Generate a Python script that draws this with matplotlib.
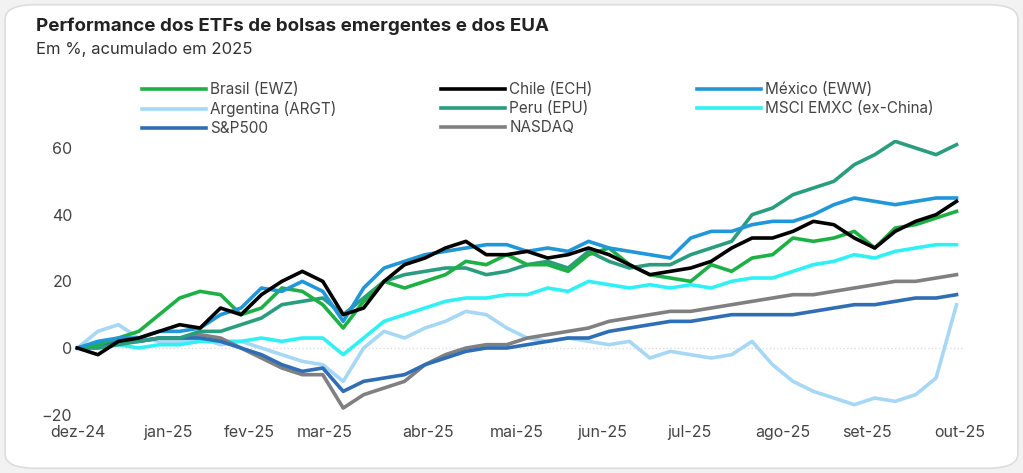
import matplotlib.pyplot as plt
from matplotlib.patches import FancyBboxPatch
import numpy as np

plt.rcParams['font.family'] = ['Inter', 'DejaVu Sans']

# weekly points, day offsets from start
days = np.arange(44) * 7

brasil = [0, 1, 3, 5, 10, 15, 17, 16, 10, 12, 18, 17, 13, 6, 14, 20, 18, 20, 22, 26, 25, 28,
          25, 25, 23, 28, 30, 25, 22, 21, 20, 25, 23, 27, 28, 33, 32, 33, 35, 30, 36, 37, 39, 41]
chile = [0, -2, 2, 3, 5, 7, 6, 12, 10, 16, 20, 23, 20, 10, 12, 20, 25, 27, 30, 32, 28, 28,
         29, 27, 28, 30, 28, 25, 22, 23, 24, 26, 30, 33, 33, 35, 38, 37, 33, 30, 35, 38, 40, 44]
mexico = [0, 2, 3, 3, 5, 5, 6, 10, 12, 18, 17, 20, 17, 8, 18, 24, 26, 28, 29, 30, 31, 31,
          29, 30, 29, 32, 30, 29, 28, 27, 33, 35, 35, 37, 38, 38, 40, 43, 45, 44, 43, 44, 45, 45]
argentina = [0, 5, 7, 3, 2, 2, 3, 1, 2, 0, -2, -4, -5, -10, 0, 5, 3, 6, 8, 11, 10, 6,
             3, 2, 3, 2, 1, 2, -3, -1, -2, -3, -2, 2, -5, -10, -13, -15, -17, -15, -16, -14, -9, 13]
peru = [0, 0, 1, 2, 3, 3, 5, 5, 7, 9, 13, 14, 15, 10, 15, 20, 22, 23, 24, 24, 22, 23,
        25, 26, 24, 29, 26, 24, 25, 25, 28, 30, 32, 40, 42, 46, 48, 50, 55, 58, 62, 60, 58, 61]
emxc = [0, 0, 1, 0, 1, 1, 2, 2, 2, 3, 2, 3, 3, -2, 3, 8, 10, 12, 14, 15, 15, 16,
        16, 18, 17, 20, 19, 18, 19, 18, 19, 18, 20, 21, 21, 23, 25, 26, 28, 27, 29, 30, 31, 31]
sp500 = [0, 1, 2, 2, 3, 3, 3, 2, 0, -2, -5, -7, -6, -13, -10, -9, -8, -5, -3, -1, 0, 0,
         1, 2, 3, 3, 5, 6, 7, 8, 8, 9, 10, 10, 10, 10, 11, 12, 13, 13, 14, 15, 15, 16]
nasdaq = [0, 1, 2, 2, 3, 3, 4, 3, 0, -3, -6, -8, -8, -18, -14, -12, -10, -5, -2, 0, 1, 1,
          3, 4, 5, 6, 8, 9, 10, 11, 11, 12, 13, 14, 15, 16, 16, 17, 18, 19, 20, 20, 21, 22]

tick_days = [0, 30.8, 58.9, 84.6, 119.9, 150.3, 179.8, 209.6, 241.4, 270.5, 302]
tick_labels = ['dez-24', 'jan-25', 'fev-25', 'mar-25', 'abr-25', 'mai-25',
               'jun-25', 'jul-25', 'ago-25', 'set-25', 'out-25']

series = [
    ('Brasil (EWZ)', brasil, '#1DB045'),
    ('Argentina (ARGT)', argentina, '#A6D8F5'),
    ('S&P500', sp500, '#2F6DB5'),
    ('Chile (ECH)', chile, '#000000'),
    ('Peru (EPU)', peru, '#2A9D7F'),
    ('NASDAQ', nasdaq, '#808080'),
    ('México (EWW)', mexico, '#2196D9'),
    ('MSCI EMXC (ex-China)', emxc, '#2EF0F5'),
]
zorder = {'Argentina (ARGT)': 1, 'MSCI EMXC (ex-China)': 2, 'NASDAQ': 3, 'S&P500': 4,
          'Peru (EPU)': 5, 'Brasil (EWZ)': 6, 'México (EWW)': 7, 'Chile (ECH)': 8}

fig = plt.figure(figsize=(10.23, 4.73), dpi=100)
fig.patch.set_facecolor('#f2f2f2')
fig.patches.append(FancyBboxPatch((0.005, 0.01), 0.99, 0.98, boxstyle='round,pad=0,rounding_size=0.03',
                                  transform=fig.transFigure, facecolor='white',
                                  edgecolor='#dddddd', linewidth=1.2, zorder=-1))

ax = fig.add_axes([0.068, 0.112, 0.875, 0.592])
ax.patch.set_alpha(0)
for name, vals, col in series:
    ax.plot(days, vals, color=col, linewidth=2.6, label=name, zorder=zorder[name])

ax.set_xlim(-2.7, 303.8)
ax.set_ylim(-21.6, 62.4)
ax.set_yticks([-20, 0, 20, 40, 60])
ax.set_xticks(tick_days)
ax.set_xticklabels(tick_labels)
ax.tick_params(length=0, labelsize=11.5, colors='#444444')
ax.tick_params(axis='y', pad=-2)
for s in ax.spines.values():
    s.set_visible(False)
ax.axhline(0, color='#dddddd', linewidth=1, linestyle=':', zorder=0)

fig.text(0.035, 0.935, 'Performance dos ETFs de bolsas emergentes e dos EUA',
         fontsize=13.5, fontweight='bold', color='#222222')
fig.text(0.035, 0.885, 'Em %, acumulado em 2025', fontsize=12, color='#333333')

fig.legend(loc='upper left', bbox_to_anchor=(0.125, 0.855), ncol=3, frameon=False,
           fontsize=11, handlelength=4.2, handletextpad=0.3, columnspacing=6.8,
           labelspacing=0.25, labelcolor='#444444')

fig.savefig('out.png', dpi=100, facecolor=fig.get_facecolor())
